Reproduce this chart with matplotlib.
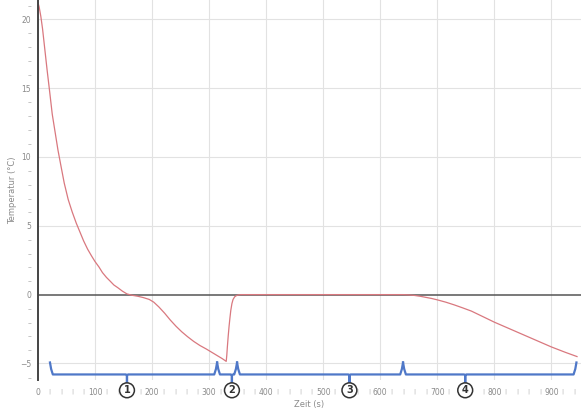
import matplotlib.pyplot as plt
from matplotlib.ticker import FixedLocator, FuncFormatter

# Temperaturverlauf (Zeit in s, Temperatur in °C)
zeit = [0, 2, 5, 8, 12, 16, 20, 25, 30, 35, 40, 46, 53, 60, 67, 74, 80, 87,
        94, 100, 107, 113, 120, 126, 133, 140, 148, 156, 165, 175, 185, 195,
        203, 212, 222, 232, 242, 252, 262, 273, 284, 295, 305, 315, 323, 330,
        331, 332, 333.5, 335, 336.5, 338, 340, 342, 345, 348, 352, 356, 400,
        500, 600, 640, 650, 660, 670, 680, 690, 700, 715, 730, 745, 760, 780,
        800, 825, 850, 875, 900, 925, 945]
temperatur = [21.2, 20.9, 20.2, 19.3, 17.8, 16.3, 14.9, 13.1, 11.8, 10.5, 9.4,
              8.1, 6.9, 6.0, 5.2, 4.5, 3.9, 3.3, 2.8, 2.4, 2.0, 1.6, 1.25, 1.0,
              0.7, 0.5, 0.25, 0.05, -0.05, -0.12, -0.22, -0.35, -0.55, -0.9,
              -1.35, -1.85, -2.3, -2.7, -3.05, -3.4, -3.7, -3.95, -4.2, -4.45,
              -4.65, -4.85, -4.4, -3.8, -3.0, -2.3, -1.7, -1.15, -0.65, -0.35,
              -0.15, -0.07, -0.02, 0.0, 0.0, 0.0, 0.0, 0.0, -0.02, -0.06,
              -0.12, -0.2, -0.28, -0.38, -0.55, -0.75, -0.97, -1.2, -1.6,
              -2.0, -2.45, -2.9, -3.35, -3.8, -4.2, -4.5]

# Abschnitte: Start, Mitte, Ende (s)
abschnitte = ['1', '2', '3', '4']
ab_start = [21, 314, 349, 640]
ab_mitte = [156, 340, 546, 749]
ab_ende = [314, 349, 640, 944]

x_major = [0, 100, 200, 300, 400, 500, 600, 700, 800, 900]
y_major = [-5, 0, 5, 10, 15, 20]

blau = '#4f78c8'
grau = '#8a8a8a'

fig = plt.figure(figsize=(5.81, 4.09), dpi=100)
ax = fig.add_axes([0.0654, 0.071, 0.9346, 0.929])
ax.set_xlim(0, 952)
ax.set_ylim(-6.2, 21.4)

for s in ['top', 'right', 'bottom']:
    ax.spines[s].set_visible(False)
ax.spines['left'].set_color('#444444')
ax.spines['left'].set_linewidth(1.4)

# Gitter
for xv in x_major[1:]:
    ax.axvline(xv, color='#e2e2e2', lw=0.8, zorder=0)
for yv in y_major:
    if yv != 0:
        ax.axhline(yv, color='#e2e2e2', lw=0.8, zorder=0)
ax.axhline(0, color='#555555', lw=1.1, zorder=1)

ax.plot(zeit, temperatur, color='#d9787f', lw=0.9, zorder=2)

# Achsenbeschriftungen im Vernier-Stil (Nebenstriche unter den Kreisen weglassen)
x_minor = [v for v in range(0, 952, 20)
           if v % 100 and min(abs(v - m) for m in ab_mitte) > 12]
ax.xaxis.set_major_locator(FixedLocator(x_major))
ax.xaxis.set_minor_locator(FixedLocator(x_minor))
ax.xaxis.set_minor_formatter(FuncFormatter(lambda v, p: '|'))
ax.yaxis.set_major_locator(FixedLocator(y_major))
ax.yaxis.set_minor_locator(FixedLocator([v for v in range(-6, 22) if v % 5]))
ax.yaxis.set_minor_formatter(FuncFormatter(lambda v, p: '–'))
ax.tick_params(axis='both', which='both', length=0, colors=grau, labelsize=5.5)
ax.tick_params(axis='x', which='both', pad=6)
ax.tick_params(axis='y', which='both', pad=5)
for t in ax.xaxis.get_minorticklabels():
    t.set_fontsize(4.5)
    t.set_color('#b5b5b5')
for t in ax.yaxis.get_minorticklabels():
    t.set_color('#b5b5b5')

ax.set_xlabel('Zeit (s)', fontsize=6, color=grau, labelpad=2)
ax.set_ylabel('Temperatur (°C)', fontsize=6, color=grau, labelpad=2)

# Klammern unter der Kurve
y_oben, y_unten, y_spitze = -4.93, -5.8, -6.4
for name, a, m, e in zip(abschnitte, ab_start, ab_mitte, ab_ende):
    px = [a, a + 2, a + 5, m - 2, m, m, m, m + 2, e - 5, e - 2, e]
    py = [y_oben, y_unten + 0.4, y_unten, y_unten, y_unten - 0.05, y_spitze,
          y_unten - 0.05, y_unten, y_unten, y_unten + 0.4, y_oben]
    ax.plot(px, py, color=blau, lw=1.6, clip_on=False, zorder=3,
            solid_joinstyle='round')
    ax.text(m, -6.95, name, ha='center', va='center', fontsize=7,
            fontweight='bold', color='#333333', clip_on=False, zorder=4,
            bbox=dict(boxstyle='circle,pad=0.25', fc='white', ec='#333333',
                      lw=1.1))

fig.savefig('out.png', dpi=100)
